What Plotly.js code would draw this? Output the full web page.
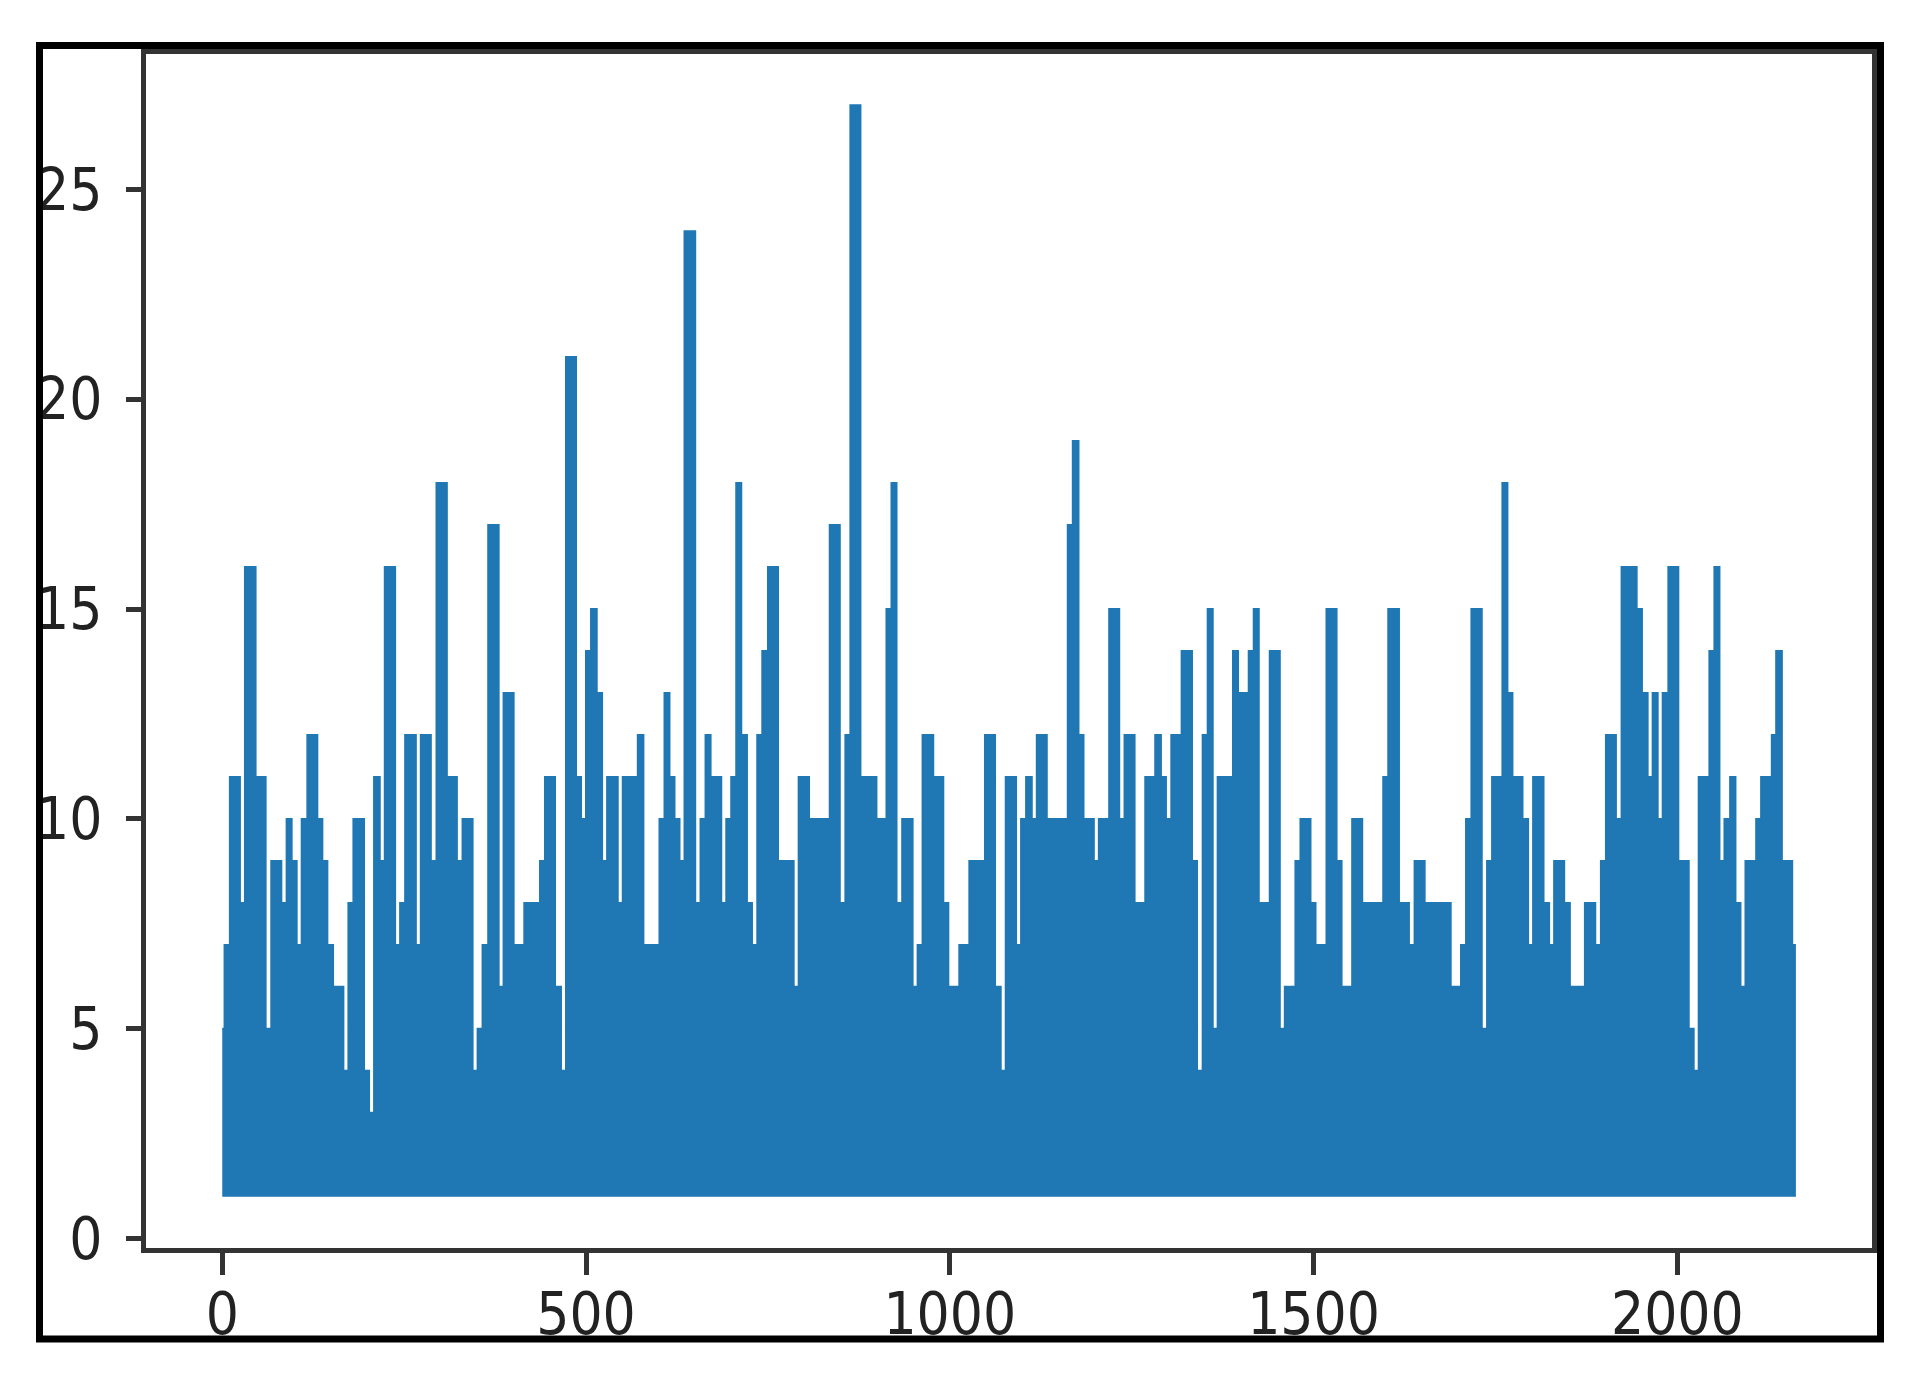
<!DOCTYPE html>
<html>
<head>
<meta charset="utf-8">
<script src="https://cdn.plot.ly/plotly-3.0.1.min.js"></script>
<style>
  html, body { margin: 0; padding: 0; background: #ffffff; }
  #chart { width: 1921px; height: 1375px; }
  #chart .xtick text, #chart .ytick text { font-stretch: condensed; }
</style>
</head>
<body>
<div id="chart"></div>
<script>
// Upper envelope of the dense series (start index, value held until next index)
const envX = [0, 3.2, 10.5, 24.3, 31.2, 45.8, 59.6, 67.4, 81.2, 88.5, 95.4, 102.3, 109.2, 117.0, 130.7, 137.6, 144.5, 152.3, 166.5, 173.4, 180.3, 194.9, 201.8, 208.7, 216.5, 223.4, 237.6, 244.5, 251.4, 266.1, 272.9, 286.7, 294.5, 308.7, 322.5, 330.3, 344.1, 351.0, 357.8, 365.6, 379.9, 386.7, 400.5, 415.2, 436.8, 443.6, 457.4, 465.6, 472.5, 486.3, 493.2, 500.0, 506.9, 514.7, 522.1, 529.0, 543.6, 550.5, 571.2, 578.9, 601.0, 607.9, 614.7, 621.6, 628.5, 635.4, 650.1, 657.4, 664.3, 671.2, 685.9, 692.8, 699.6, 706.5, 713.4, 721.2, 728.1, 735.4, 742.3, 750.1, 763.9, 785.4, 792.3, 806.5, 835.0, 848.8, 856.5, 863.4, 877.2, 899.2, 913.0, 919.9, 926.8, 934.6, 948.9, 955.8, 962.6, 977.3, 991.1, 998.0, 1013.1, 1026.9, 1048.4, 1062.2, 1070.0, 1076.9, 1091.1, 1098.0, 1104.9, 1112.7, 1119.6, 1133.3, 1162.2, 1169.1, 1176.9, 1183.8, 1198.0, 1204.9, 1219.1, 1232.9, 1240.2, 1254.0, 1268.7, 1282.4, 1290.2, 1297.1, 1304.5, 1318.7, 1332.9, 1339.8, 1347.6, 1354.5, 1361.4, 1368.2, 1389.3, 1396.2, 1410.9, 1417.8, 1424.7, 1439.8, 1453.6, 1460.5, 1475.1, 1482.0, 1495.8, 1502.7, 1517.8, 1531.6, 1538.5, 1553.1, 1566.9, 1595.8, 1602.7, 1617.4, 1631.1, 1638.9, 1652.7, 1688.5, 1702.7, 1709.6, 1717.0, 1731.2, 1738.5, 1745.4, 1759.6, 1766.5, 1773.4, 1787.2, 1794.9, 1801.8, 1816.1, 1823.8, 1830.7, 1844.5, 1852.3, 1873.0, 1887.2, 1895.0, 1901.9, 1915.6, 1923.4, 1944.1, 1951.4, 1959.2, 1966.1, 1973.0, 1979.9, 1987.7, 2001.4, 2015.7, 2022.5, 2029.4, 2044.1, 2051.0, 2057.9, 2064.8, 2072.6, 2079.9, 2086.8, 2093.7, 2108.4, 2115.2, 2129.9, 2135.9, 2143.7, 2157.9, 2163];
const envY = [5, 7, 11, 8, 16, 11, 5, 9, 8, 10, 9, 7, 10, 12, 10, 9, 7, 6, 4, 8, 10, 4, 3, 11, 9, 16, 7, 8, 12, 7, 12, 9, 18, 11, 9, 10, 4, 5, 7, 17, 6, 13, 7, 8, 9, 11, 6, 4, 21, 11, 10, 14, 15, 13, 9, 11, 8, 11, 12, 7, 10, 13, 11, 10, 9, 24, 8, 10, 12, 11, 8, 10, 11, 18, 12, 8, 7, 12, 14, 16, 9, 6, 11, 10, 17, 8, 12, 27, 11, 10, 15, 18, 8, 10, 6, 7, 12, 11, 8, 6, 7, 9, 12, 6, 4, 11, 7, 10, 11, 10, 12, 10, 17, 19, 12, 10, 9, 10, 15, 10, 12, 8, 11, 12, 11, 10, 12, 14, 9, 4, 12, 15, 5, 11, 14, 13, 14, 15, 8, 14, 5, 6, 9, 10, 8, 7, 15, 9, 6, 10, 8, 11, 15, 8, 7, 9, 8, 6, 7, 10, 15, 5, 9, 11, 18, 13, 11, 10, 7, 11, 8, 7, 9, 8, 6, 8, 7, 9, 12, 10, 16, 15, 13, 11, 13, 10, 13, 16, 9, 5, 4, 11, 14, 16, 9, 10, 11, 8, 6, 9, 10, 11, 12, 14, 9, 7, 7];
// Lowest value of the series (the floor the line keeps returning to)
const floorX = [0, 2163];
const floorY = [1, 1];
const xTicks = [0, 500, 1000, 1500, 2000];
const yTicks = [0, 5, 10, 15, 20, 25];

const blue = '#1f77b4';
const axisCol = '#333333';
const tickFont = {family: '"DejaVu Sans Condensed", "DejaVu Sans", sans-serif', size: 58, color: '#222222'};

const traces = [
  {x: floorX, y: floorY, mode: 'lines', line: {width: 0, color: blue}, hoverinfo: 'skip', showlegend: false},
  {x: envX, y: envY, mode: 'lines', line: {shape: 'hv', width: 2, color: blue}, fill: 'tonexty', fillcolor: blue, showlegend: false}
];

const L = 146, R = 1872, T = 54, B = 1248;
const W = 1921, H = 1375;
const pw = R - L, ph = B - T;
const px = v => (v - L) / pw;
const py = v => (B - v) / ph;

const layout = {
  width: W, height: H,
  margin: {l: L, r: W - R, t: T, b: H - B, pad: 0},
  paper_bgcolor: '#ffffff', plot_bgcolor: '#ffffff',
  showlegend: false,
  xaxis: {
    range: [-104.8, 2267.6], tickvals: xTicks, ticktext: xTicks.map(String),
    showgrid: false, zeroline: false, showline: true, mirror: true,
    linecolor: axisCol, linewidth: 5, ticks: 'outside', ticklen: 22, tickwidth: 5, tickcolor: axisCol,
    tickfont: tickFont, ticklabelstandoff: -11
  },
  yaxis: {
    range: [-0.22, 28.22], tickvals: yTicks, ticktext: yTicks.map(String),
    showgrid: false, zeroline: false, showline: true, mirror: true,
    linecolor: axisCol, linewidth: 5, ticks: 'outside', ticklen: 15, tickwidth: 5, tickcolor: axisCol,
    tickfont: tickFont, ticklabelstandoff: 12
  },
  shapes: [{
    type: 'rect', xref: 'paper', yref: 'paper',
    x0: px(39.5), x1: px(1880.5), y0: py(1339), y1: py(45.5),
    line: {color: '#000000', width: 7}, fillcolor: 'rgba(0,0,0,0)', layer: 'above'
  }]
};

Plotly.newPlot('chart', traces, layout, {displayModeBar: false, staticPlot: true});
</script>
</body>
</html>
